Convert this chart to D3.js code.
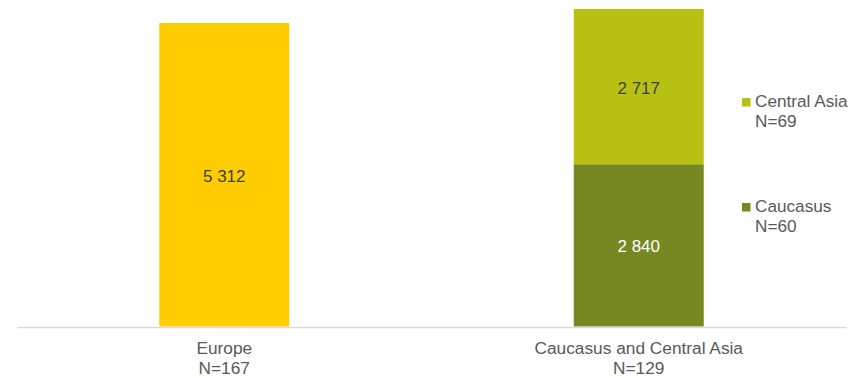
<!DOCTYPE html>
<html>
<head>
<meta charset="utf-8">
<script src="https://cdn.jsdelivr.net/npm/d3@7"></script>
<style>
  html, body { margin: 0; padding: 0; background: #fff; }
  svg { display: block; font-family: "Liberation Sans", Arial, sans-serif; }
</style>
</head>
<body>
<svg id="chart" width="867" height="378"></svg>
<script>
// Regions on the x axis, with respondent counts
const categories = ["Europe", "Caucasus and Central Asia"];
const categoryN = ["N=167", "N=129"];

// Stacked series (bottom to top)
const seriesNames = ["Europe", "Caucasus", "Central Asia"];
const seriesN = ["N=167", "N=60", "N=69"];
const europeValues = [5312, 0];
const caucasusValues = [0, 2840];
const centralAsiaValues = [0, 2717];

const colors = { "Europe": "#FFCC00", "Caucasus": "#778822", "Central Asia": "#B8C012" };
const labelColors = { "Europe": "#404040", "Caucasus": "#ffffff", "Central Asia": "#404040" };

(function () {
  const svg = d3.select("#chart");
  const plotLeft = 17, plotRight = 846, baseline = 326.5, plotTop = 9;

  const rows = categories.map((c, i) => ({
    category: c,
    "Europe": europeValues[i],
    "Caucasus": caucasusValues[i],
    "Central Asia": centralAsiaValues[i]
  }));

  const stacked = d3.stack().keys(seriesNames)(rows);
  const maxTotal = d3.max(rows, r => r.Europe + r.Caucasus + r["Central Asia"]);

  const x = d3.scaleBand().domain(categories).range([plotLeft, plotRight]).padding(0);
  const y = d3.scaleLinear().domain([0, maxTotal]).range([baseline, plotTop]);
  const barW = x.bandwidth() * 0.3136;

  // Bars
  const layers = svg.append("g").selectAll("g")
    .data(stacked).join("g")
    .attr("fill", d => colors[d.key]);

  const segs = d => d.map(p => ({ key: d.key, p })).filter(o => o.p[1] - o.p[0] > 0);

  layers.selectAll("rect")
    .data(segs)
    .join("rect")
    .attr("x", o => x(o.p.data.category) + x.bandwidth() / 2 - barW / 2)
    .attr("width", barW)
    .attr("y", o => y(o.p[1]))
    .attr("height", o => y(o.p[0]) - y(o.p[1]));

  // Value labels inside segments
  const fmt = v => d3.format(",")(v).replace(/,/g, " ");
  layers.selectAll("text")
    .data(segs)
    .join("text")
    .attr("x", o => x(o.p.data.category) + x.bandwidth() / 2)
    .attr("y", o => (y(o.p[0]) + y(o.p[1])) / 2 + 1)
    .attr("dy", "0.35em")
    .attr("text-anchor", "middle")
    .attr("font-size", 17)
    .attr("fill", o => labelColors[o.key])
    .text(o => fmt(o.p[1] - o.p[0]));

  // Category axis
  const axis = svg.append("g")
    .attr("transform", `translate(0,${baseline + 0.5})`)
    .call(d3.axisBottom(x).tickSize(0).tickFormat(""));
  axis.select(".domain").attr("stroke", "#d9d9d9").attr("stroke-width", 1.5);

  const catLabels = svg.append("g").selectAll("text")
    .data(categories).join("text")
    .attr("x", d => x(d) + x.bandwidth() / 2)
    .attr("y", 354)
    .attr("text-anchor", "middle")
    .attr("font-size", 17.3)
    .attr("fill", "#595959");
  catLabels.append("tspan").attr("x", d => x(d) + x.bandwidth() / 2).text(d => d);
  catLabels.append("tspan").attr("x", d => x(d) + x.bandwidth() / 2).attr("dy", 19.5)
    .text((d, i) => categoryN[i]);

  // Legend (stacked series of the second bar)
  const legendItems = [
    { name: "Central Asia", n: seriesN[2], y: 98 },
    { name: "Caucasus", n: seriesN[1], y: 203 }
  ];
  const lg = svg.append("g").selectAll("g")
    .data(legendItems).join("g")
    .attr("transform", d => `translate(742,${d.y})`);
  lg.append("rect").attr("width", 8.5).attr("height", 8.5).attr("fill", d => colors[d.name]);
  const lt = lg.append("text").attr("x", 13).attr("y", 8.7).attr("font-size", 17.2).attr("fill", "#595959");
  lt.append("tspan").attr("x", 13).text(d => d.name);
  lt.append("tspan").attr("x", 13).attr("dy", 20).text(d => d.n);
})();
</script>
</body>
</html>
